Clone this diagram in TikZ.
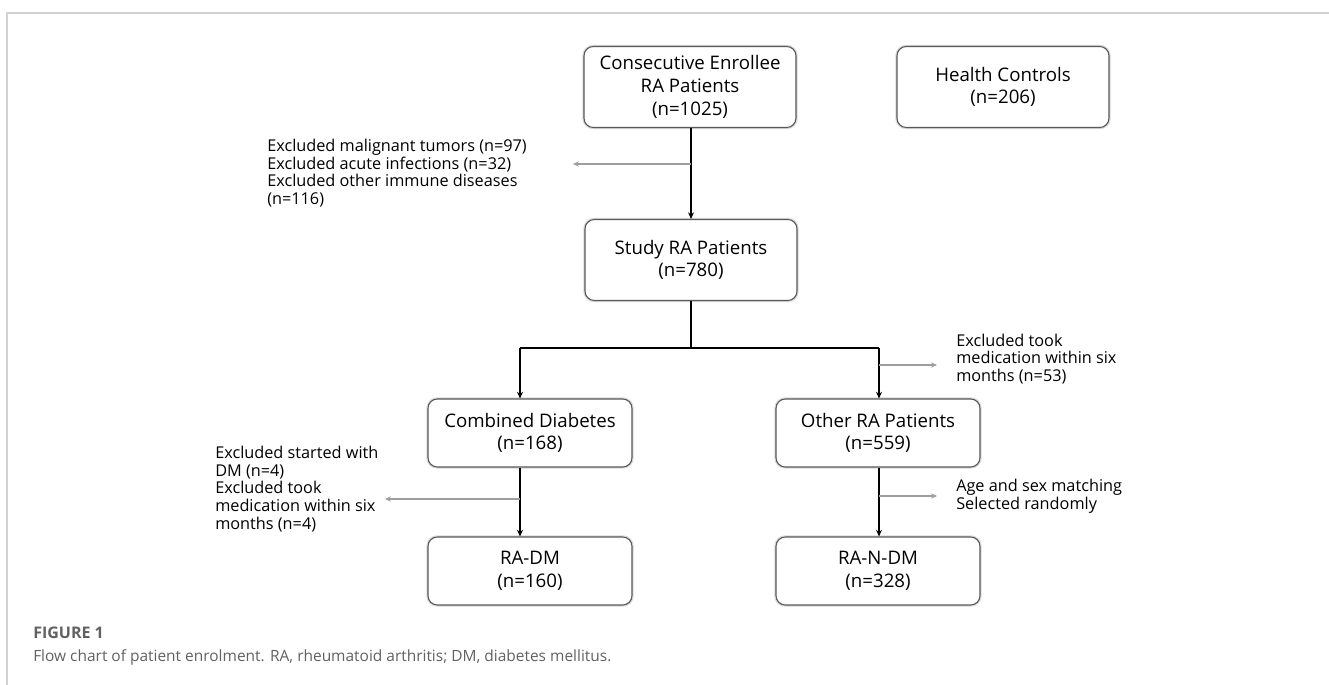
\documentclass[tikz,border=0pt]{standalone}
\usepackage{fontspec}
\setmainfont{Open Sans}
\usepackage{xcolor}
\usetikzlibrary{arrows.meta}

\definecolor{boxline}{gray}{0.35}
\definecolor{exclarrow}{gray}{0.62}
\definecolor{captext}{gray}{0.38}

\begin{document}
\begin{tikzpicture}[x=0.75pt, y=-0.75pt, >={Stealth[length=5pt,width=4.5pt]},
    box/.style={draw=boxline, line width=0.8pt, rounded corners=7pt, fill=white, align=center,
        font=\fontsize{14}{17}\selectfont, inner sep=2pt,
        preaction={draw=gray!30, line width=2.6pt}},
    bigbox/.style={box, minimum width=159pt, minimum height=60.75pt},
    smallbox/.style={box, minimum width=153pt, minimum height=51pt},
    note/.style={align=left, font=\fontsize{12.2}{13.2}\selectfont, inner sep=0pt},
    flow/.style={->, line width=0.8pt},
    excl/.style={->, exclarrow, line width=0.8pt, >={Stealth[length=4.5pt,width=4pt]}}]
    \useasboundingbox (0,0) rectangle (1329,685);
    \draw[gray!35, line width=1pt] (7,685) -- (7,13) -- (1329,13);

    % boxes
    \node[bigbox] (enroll) at (690, 87) {Consecutive Enrollee\\RA Patients\\(n=1025)};
    \node[bigbox] (health) at (1003, 87) {Health Controls\\(n=206)};
    \node[bigbox] (study) at (691, 260) {Study RA Patients\\(n=780)};
    \node[smallbox] (combined) at (530, 433) {Combined Diabetes\\(n=168)};
    \node[smallbox] (other) at (878, 433) {Other RA Patients\\(n=559)};
    \node[smallbox] (radm) at (530, 571) {RA-DM\\(n=160)};
    \node[smallbox] (randm) at (878, 571) {RA-N-DM\\(n=328)};

    % exclusion notes
    \node[note, anchor=west] (excla) at (267, 173) {Excluded malignant tumors (n=97)\\Excluded acute infections (n=32)\\Excluded other immune diseases\\(n=116)};
    \node[note, anchor=west] (exclb) at (215, 489) {Excluded started with\\DM (n=4)\\Excluded took\\medication within six\\months (n=4)};
    \node[note, anchor=west] (exclc) at (956, 359) {Excluded took\\medication within six\\months (n=53)};
    \node[note, anchor=west] (match) at (956, 496) {Age and sex matching\\Selected randomly};

    \coordinate (ja) at (691, 164);
    \coordinate (ta) at (573, 164);
    \coordinate (split) at (691, 348);
    \coordinate (sl) at (520, 348);
    \coordinate (sr) at (879, 348);
    \coordinate (jb) at (520, 499);
    \coordinate (tb) at (385, 499);
    \coordinate (jc) at (879, 365);
    \coordinate (tc) at (937, 365);
    \coordinate (jd) at (879, 496);
    \coordinate (td) at (937, 496);

    \draw[flow] (enroll.south -| study.north) -- (study.north);
    \draw[excl] (ja) -- (ta);
    \draw[line width=0.8pt] (study.south) -- (split);
    \draw[line width=0.8pt] (sl) -- (sr);
    \draw[flow] (sl) -- (sl |- combined.north);
    \draw[flow] (sr) -- (sr |- other.north);
    \draw[flow] (combined.south -| sl) -- (radm.north -| sl);
    \draw[excl] (jb) -- (tb);
    \draw[flow] (other.south -| sr) -- (randm.north -| sr);
    \draw[excl] (jc) -- (tc);
    \draw[excl] (jd) -- (td);

    % caption
    \node[anchor=west, inner sep=0pt, text=captext, font=\fontsize{12}{14}\selectfont\bfseries] (fig) at (33, 633) {FIGURE 1};
    \node[anchor=west, inner sep=0pt, text=captext, font=\fontsize{11.6}{14}\selectfont] (cap) at (33, 657) {Flow chart of patient enrolment. RA, rheumatoid arthritis; DM, diabetes mellitus.};
\end{tikzpicture}
\end{document}
